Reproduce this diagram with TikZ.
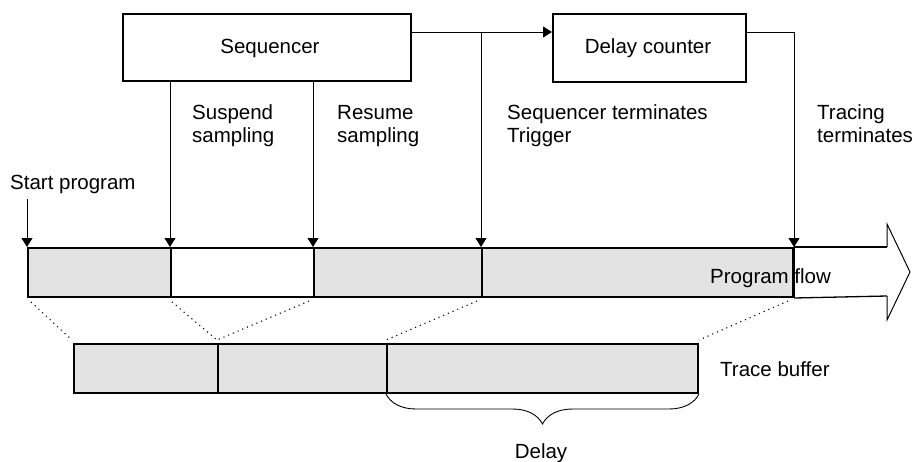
\documentclass[tikz,border=0pt]{standalone}
\usepackage{fontspec}
\setmainfont{Liberation Sans}
\usetikzlibrary{arrows.meta,decorations.pathreplacing}
\definecolor{segfill}{RGB}{227,227,227}
\begin{document}
\begin{tikzpicture}[x=1pt,y=-1pt,
  every node/.style={font=\fontsize{20.5}{23}\selectfont},
  boxnode/.style={draw,line width=2pt,inner sep=0pt,anchor=north west},
  seg/.style={draw,line width=2pt,fill=segfill,inner sep=0pt,anchor=north west,minimum height=49pt},
  wseg/.style={seg,fill=white},
  lbl/.style={anchor=base west,inner sep=0pt,align=left},
  sig/.style={line width=0.9pt,-{Triangle[length=9pt,width=11pt]}},
  dots/.style={line width=1.1pt,dash pattern=on 1.1pt off 4pt},
]
\useasboundingbox (0,0) rectangle (917,461);
% boxes
\node[boxnode,minimum width=288pt,minimum height=67pt] (seq) at (122,13) {};
\node at (270,48) (seqt) {Sequencer};
\node[boxnode,minimum width=193pt,minimum height=68pt] (dc) at (552,13) {};
\node at (648,48) (dct) {Delay counter};
% program flow bar
\node[seg,minimum width=143pt] (p1) at (27,247) {};
\node[wseg,minimum width=143pt] (p2) at (170,247) {};
\node[seg,minimum width=168pt] (p3) at (313,247) {};
\node[seg,minimum width=311pt] (p4) at (481,247) {};
\coordinate (at1) at (887,247);
\coordinate (at2) at (887,224);
\coordinate (tip) at (910,272);
\coordinate (ab2) at (887,320);
\coordinate (ab1) at (887,296);
\draw[line width=1.3pt] (p4.north east) -- (at1);
\draw[line width=1.3pt] (p4.south east) -- (ab1);
\draw[line width=1pt,line join=miter] (at1) -- (at2) -- (tip) -- (ab2) -- (ab1);
\node[anchor=base west,inner sep=0pt] (pf) at (710,283) {Program flow};
\draw[line width=2pt] (p4.north east) -- (p4.south east);
% trace buffer
\node[seg,minimum width=144pt] (b1) at (73,343) {};
\node[seg,minimum width=169pt] (b2) at (217,343) {};
\node[seg,minimum width=311pt] (b3) at (386,343) {};
\node[lbl] (tb) at (720,376) {Trace buffer};
% dotted mapping lines
\draw[dots] ([xshift=4pt,yshift=-4pt]p1.south west) -- ([xshift=-1pt,yshift=3pt]b1.north west);
\draw[dots] ([xshift=2pt,yshift=-4pt]p2.south west) -- ([yshift=3pt]b2.north west);
\draw[dots] ([xshift=-4pt,yshift=-3pt]p3.south west) -- ([yshift=3pt]b2.north west);
\draw[dots] ([xshift=-4pt,yshift=-3pt]p4.south west) -- ([yshift=3pt]b3.north west);
\draw[dots] ([xshift=-6pt,yshift=-3pt]p4.south east) -- ([yshift=3pt]b3.north east);
% brace
\draw[line width=0.9pt,decorate,decoration={brace,mirror,amplitude=30pt,aspect=0.5}] (b3.south west) -- (b3.south east) coordinate[midway] (bm);
\node[anchor=base] (dl) at (541,458) {Delay};
% signals
\coordinate (sp) at (27,199);
\draw[sig] (sp) -- (p1.north west);
\node[lbl] (spt) at (10,189) {Start program};
\draw[sig] (seq.south -| p2.north west) -- (p2.north west);
\draw[sig] (seq.south -| p3.north west) -- (p3.north west);
\node[lbl] (sus) at (192,142) {Suspend\\sampling};
\node[lbl] (res) at (337,142) {Resume\\sampling};
\coordinate (j) at (481,32);
\draw[sig] (seq.east |- j) -- (dc.west |- j);
\draw[sig] (j) -- (p4.north west);
\draw[sig] (dc.east |- j) -| (p4.north east);
\node[lbl] (stt) at (507,142) {Sequencer terminates\\Trigger};
\node[lbl] (trt) at (817,142) {Tracing\\terminates};
\end{tikzpicture}
\end{document}
